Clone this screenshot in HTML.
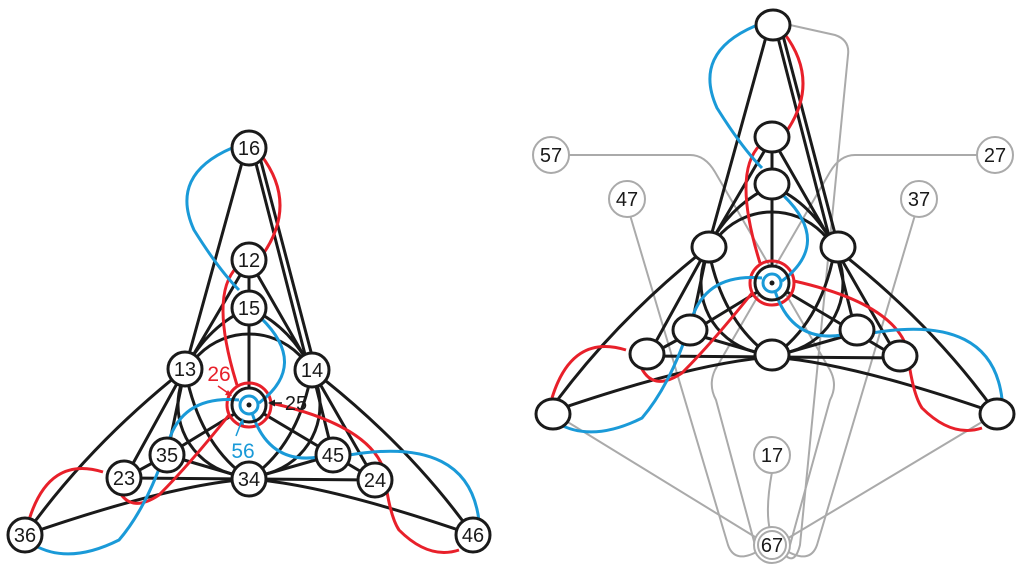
<!DOCTYPE html><html><head><style>body{margin:0;background:#fff}svg{display:block}</style></head><body>
<svg width="1024" height="571" viewBox="0 0 1024 571" xmlns="http://www.w3.org/2000/svg" font-family="Liberation Sans, sans-serif">
<defs>
<g id="g">
<g fill="none" stroke="#1a1a1a" stroke-width="3">
<circle cx="0" cy="0" r="71"/>
<path d="M-3,-257 L-64,-36 M3,-257 L60,-35 M9,-255 L67,-34"/>
<path d="M0,-145 L-64,-36 M0,-145 L63,-35 M0,-145 L0,-97 M0,-97 Q-40,-80 -64,-36 M0,-97 Q40,-80 63,-35 M0,-97 L0,0"/>
<path d="M-64,-36 Q-160,40 -224,130 M-64,-36 L-124,73 M-64,-36 L-82,50 M-64,-36 Q-50,40 0,74"/>
<path d="M63,-35 Q160,40 224,130 M63,-35 L126,75 M63,-35 L84,50 M63,-35 Q50,40 0,74"/>
<path d="M0,0 L-82,50 M0,0 L84,50 M-124,73 L-82,50 M-124,73 L0,74 M-82,50 L0,74 M84,50 L0,74 M126,75 L84,50 M126,75 L0,74"/>
<path d="M-224,130 Q-80,80 0,74 M224,130 Q80,80 0,74"/>
</g>
<circle cx="0" cy="0" r="17" fill="#fff"/>
<g fill="none" stroke="#e8202a" stroke-width="3">
<path d="M12,-250 Q50,-200 12,-148"/>
<path d="M-12,-138 Q-40,-110 -12,-20"/>
<path d="M-20,10 Q-60,60 -90,90 Q-120,110 -132,82"/>
<path d="M-146,67 Q-200,50 -220,115"/>
<path d="M22,-2 Q120,20 135,65 Q140,110 150,125 Q180,155 210,145"/>
<circle cx="0" cy="0" r="22"/>
</g>
<g fill="none" stroke="#1a9ad8" stroke-width="3">
<path d="M-17,-257 Q-80,-230 -55,-175 Q-30,-135 -10,-115"/>
<path d="M12,-87 Q60,-40 10,-2"/>
<path d="M-10,-5 Q-65,-10 -80,35 Q-100,100 -130,135 Q-180,160 -215,140"/>
<path d="M3,8 Q20,60 70,52 M100,50 Q220,30 230,116"/>
<circle cx="0" cy="0" r="9"/>
</g>
<circle cx="0" cy="0" r="17" fill="none" stroke="#1a1a1a" stroke-width="3"/>
<circle cx="0" cy="0" r="2.5" fill="#1a1a1a"/>
</g>
</defs>
<use href="#g" x="249" y="405"/>
<g fill="#fff" stroke="#1a1a1a" stroke-width="3">
<circle cx="249" cy="148" r="17"/><circle cx="249" cy="260" r="17"/><circle cx="249" cy="308" r="17"/>
<circle cx="185" cy="369" r="17"/><circle cx="312" cy="370" r="17"/>
<circle cx="167" cy="455" r="17"/><circle cx="124" cy="478" r="17"/><circle cx="249" cy="479" r="17"/>
<circle cx="333" cy="455" r="17"/><circle cx="375" cy="480" r="17"/>
<circle cx="25" cy="535" r="17"/><circle cx="473" cy="535" r="17"/>
</g>
<g font-size="20" text-anchor="middle" fill="#1a1a1a">
<text x="249" y="155">16</text><text x="249" y="267">12</text><text x="249" y="315">15</text>
<text x="185" y="376">13</text><text x="312" y="377">14</text><text x="167" y="462">35</text>
<text x="124" y="485">23</text><text x="249" y="486">34</text><text x="333" y="462">45</text>
<text x="375" y="487">24</text><text x="25" y="542">36</text><text x="473" y="542">46</text>
<text x="296" y="410">25</text>
</g>
<text x="219" y="381" font-size="21" fill="#e8202a" text-anchor="middle">26</text>
<text x="243" y="458" font-size="21" fill="#1a9ad8" text-anchor="middle">56</text>
<path d="M282,403 L272,403" stroke="#1a1a1a" stroke-width="1.5"/><path d="M268,403 l7,-3.5 v7z" fill="#1a1a1a"/>
<path d="M218,386 L228,393" stroke="#e8202a" stroke-width="1.5"/><path d="M232,396 l-7,-1 l3,-5z" fill="#e8202a"/>
<path d="M236,436 L241,423" stroke="#1a9ad8" stroke-width="1.5"/><path d="M243,418 l-4,6 l5,1z" fill="#1a9ad8"/>

<g fill="none" stroke="#aaa" stroke-width="2">
<path d="M568,155 L690,155 Q705,155 715,172 L830,370 Q838,385 830,400 L790,545"/>
<path d="M978,155 L855,155 Q840,155 830,172 L715,370 Q708,385 716,400 L755,545"/>
<path d="M630,215 L728,545 Q735,565 760,550"/>
<path d="M915,215 L817,545 Q810,565 785,550"/>
<path d="M772,472 Q765,510 770,530"/>
<path d="M790,25 L835,35 Q850,40 848,55 L800,545 Q795,565 785,555"/>
<path d="M553,413 L760,540 M997,413 L785,540"/>
</g>
<use href="#g" x="772" y="283"/>
<g fill="#fff" stroke="#1a1a1a" stroke-width="3">
<ellipse cx="773" cy="25" rx="17" ry="15"/><ellipse cx="772" cy="137" rx="17" ry="15"/><ellipse cx="772" cy="184" rx="17" ry="15"/>
<ellipse cx="709" cy="247" rx="17" ry="15"/><ellipse cx="838" cy="247" rx="17" ry="15"/>
<ellipse cx="690" cy="330" rx="17" ry="15"/><ellipse cx="647" cy="354" rx="17" ry="15"/><ellipse cx="772" cy="355" rx="17" ry="15"/>
<ellipse cx="857" cy="330" rx="17" ry="15"/><ellipse cx="900" cy="356" rx="17" ry="15"/>
<ellipse cx="553" cy="414" rx="17" ry="15"/><ellipse cx="997" cy="414" rx="17" ry="15"/>
</g>
<g fill="#fff" stroke="#aaa" stroke-width="2">
<circle cx="551" cy="155" r="18"/><circle cx="627" cy="199" r="18"/><circle cx="995" cy="155" r="18"/>
<circle cx="919" cy="199" r="18"/><circle cx="772" cy="455" r="18"/>
<circle cx="772" cy="545" r="18"/><circle cx="772" cy="545" r="14"/>
</g>
<g font-size="20" text-anchor="middle" fill="#1a1a1a">
<text x="551" y="162">57</text><text x="627" y="206">47</text><text x="995" y="162">27</text>
<text x="919" y="206">37</text><text x="772" y="462">17</text><text x="772" y="552">67</text>
</g>
</svg>
</body></html>
